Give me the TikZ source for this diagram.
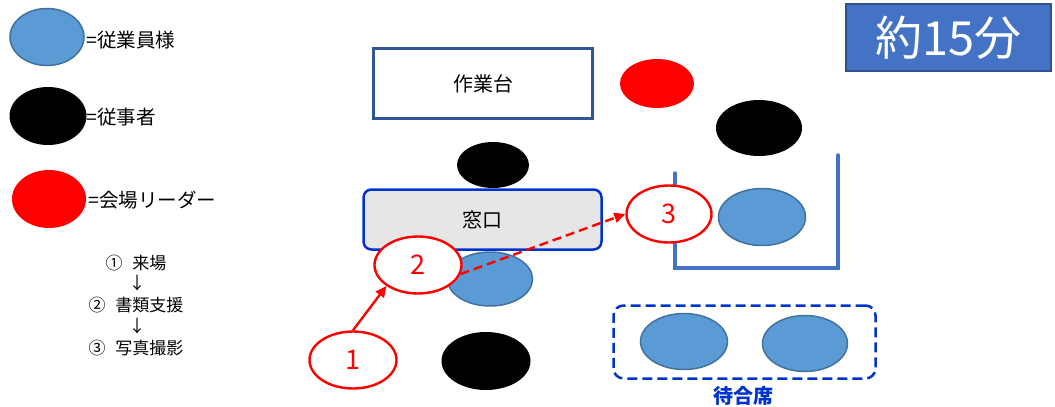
\documentclass[tikz,border=0pt]{standalone}
\usepackage{fontspec}
\setmainfont{Noto Sans CJK JP}
\usetikzlibrary{shapes.geometric,arrows.meta}
\definecolor{staff}{HTML}{5B9BD5}
\definecolor{staffedge}{HTML}{41719C}
\definecolor{boxblue}{HTML}{4472C4}
\definecolor{boxedge}{HTML}{2F528F}
\definecolor{deepblue}{HTML}{0033CC}
\definecolor{winfill}{HTML}{E7E6E6}
\definecolor{tableedge}{HTML}{2F5597}
\tikzset{
  guest/.style={ellipse,fill=staff,draw=staffedge,line width=1.5pt,inner sep=0pt},
  worker/.style={ellipse,fill=black,inner sep=0pt},
  leader/.style={ellipse,fill=red,inner sep=0pt},
  stepmark/.style={ellipse,draw=red,fill=white,line width=2.4pt,text=red,
    font=\fontsize{27}{27}\selectfont,inner sep=0pt,minimum width=87,minimum height=57},
  legendtext/.style={anchor=west,inner sep=0pt,font=\fontsize{19.5}{19.5}\selectfont},
  steptext/.style={inner sep=0pt,font=\fontsize{17}{17}\selectfont},
  flow/.style={red,line width=2.4pt,-{Triangle[length=11pt,width=10pt]}}
}
\begin{document}
\begin{tikzpicture}[x=1pt,y=-1pt]
\useasboundingbox (0,0) rectangle (1055,407);

% legend
\node[guest,minimum width=74,minimum height=57] (lg) at (47,37) {};
\node[legendtext] (lgt) at (86,40) {=従業員様};
\node[worker,minimum width=77,minimum height=58] (lw) at (48,116) {};
\node[legendtext] (lwt) at (86,117) {=従事者};
\node[leader,minimum width=74,minimum height=58] (ll) at (49,199) {};
\node[legendtext] (llt) at (88,200) {=会場リーダー};

% steps
\node[steptext] (s1) at (136,263) {①\hspace{10pt}来場};
\node[steptext] (a1) at (137,283) {↓};
\node[steptext] (s2) at (136,305) {②\hspace{10pt}書類支援};
\node[steptext] (a2) at (137,326) {↓};
\node[steptext] (s3) at (136,348) {③\hspace{10pt}写真撮影};

% title
\node[fill=boxblue,draw=boxedge,line width=2pt,minimum width=205,minimum height=67,
  text=white,font=\fontsize{47}{47}\selectfont,inner sep=0pt] (time) at (948.5,37.5) {約15分};

% work table
\node[draw=tableedge,line width=2.5pt,minimum width=219,minimum height=70,inner sep=0pt,
  font=\fontsize{20}{20}\selectfont] (table) at (483,83.5) {作業台};

% people top
\node[leader,minimum width=74,minimum height=49] (lead) at (657,83.5) {};
\node[worker,minimum width=86,minimum height=56] (w1) at (759,128) {};
\node[worker,minimum width=72,minimum height=46] (w2) at (493,165) {};

% window
\node[draw=deepblue,fill=winfill,rounded corners=8pt,line width=2.5pt,minimum width=238,
  minimum height=60,inner sep=0pt,font=\fontsize{20}{20}\selectfont] (win) at (482.5,219.5) {窓口};
\node[guest,minimum width=85,minimum height=54] (g1) at (490,279) {};
\node[worker,minimum width=89,minimum height=58] (w3) at (486,361) {};

% photo booth
\draw[boxblue,line width=3.5pt,line cap=round] (675,173) -- (675,268) -- (838,268) -- (838,155);
\node[guest,minimum width=87,minimum height=57] (g2) at (762,217) {};

% waiting area
\node[draw=deepblue,dashed,dash pattern=on 10pt off 5pt,rounded corners=10pt,line width=2.5pt,
  minimum width=262,minimum height=73,inner sep=0pt] (wait) at (744.5,342) {};
\node[guest,minimum width=87,minimum height=56] (g3) at (684,341.5) {};
\node[guest,minimum width=85,minimum height=56] (g4) at (805,343.5) {};
\node[inner sep=0pt,text=deepblue,font=\fontsize{20}{20}\selectfont\bfseries] (waitlbl) at (743,396) {待合席};

% steps on floor
\node[stepmark] (c1) at (353,360) {1};
\node[stepmark] (c2) at (418,265) {2};
\node[stepmark,minimum width=85] (c3) at (669,214) {3};

\draw[flow] (c1.north) -- (c2.south west);
\draw[flow,dashed,dash pattern=on 9pt off 5pt] (c2.-12) -- (c3.west);
\end{tikzpicture}
\end{document}
